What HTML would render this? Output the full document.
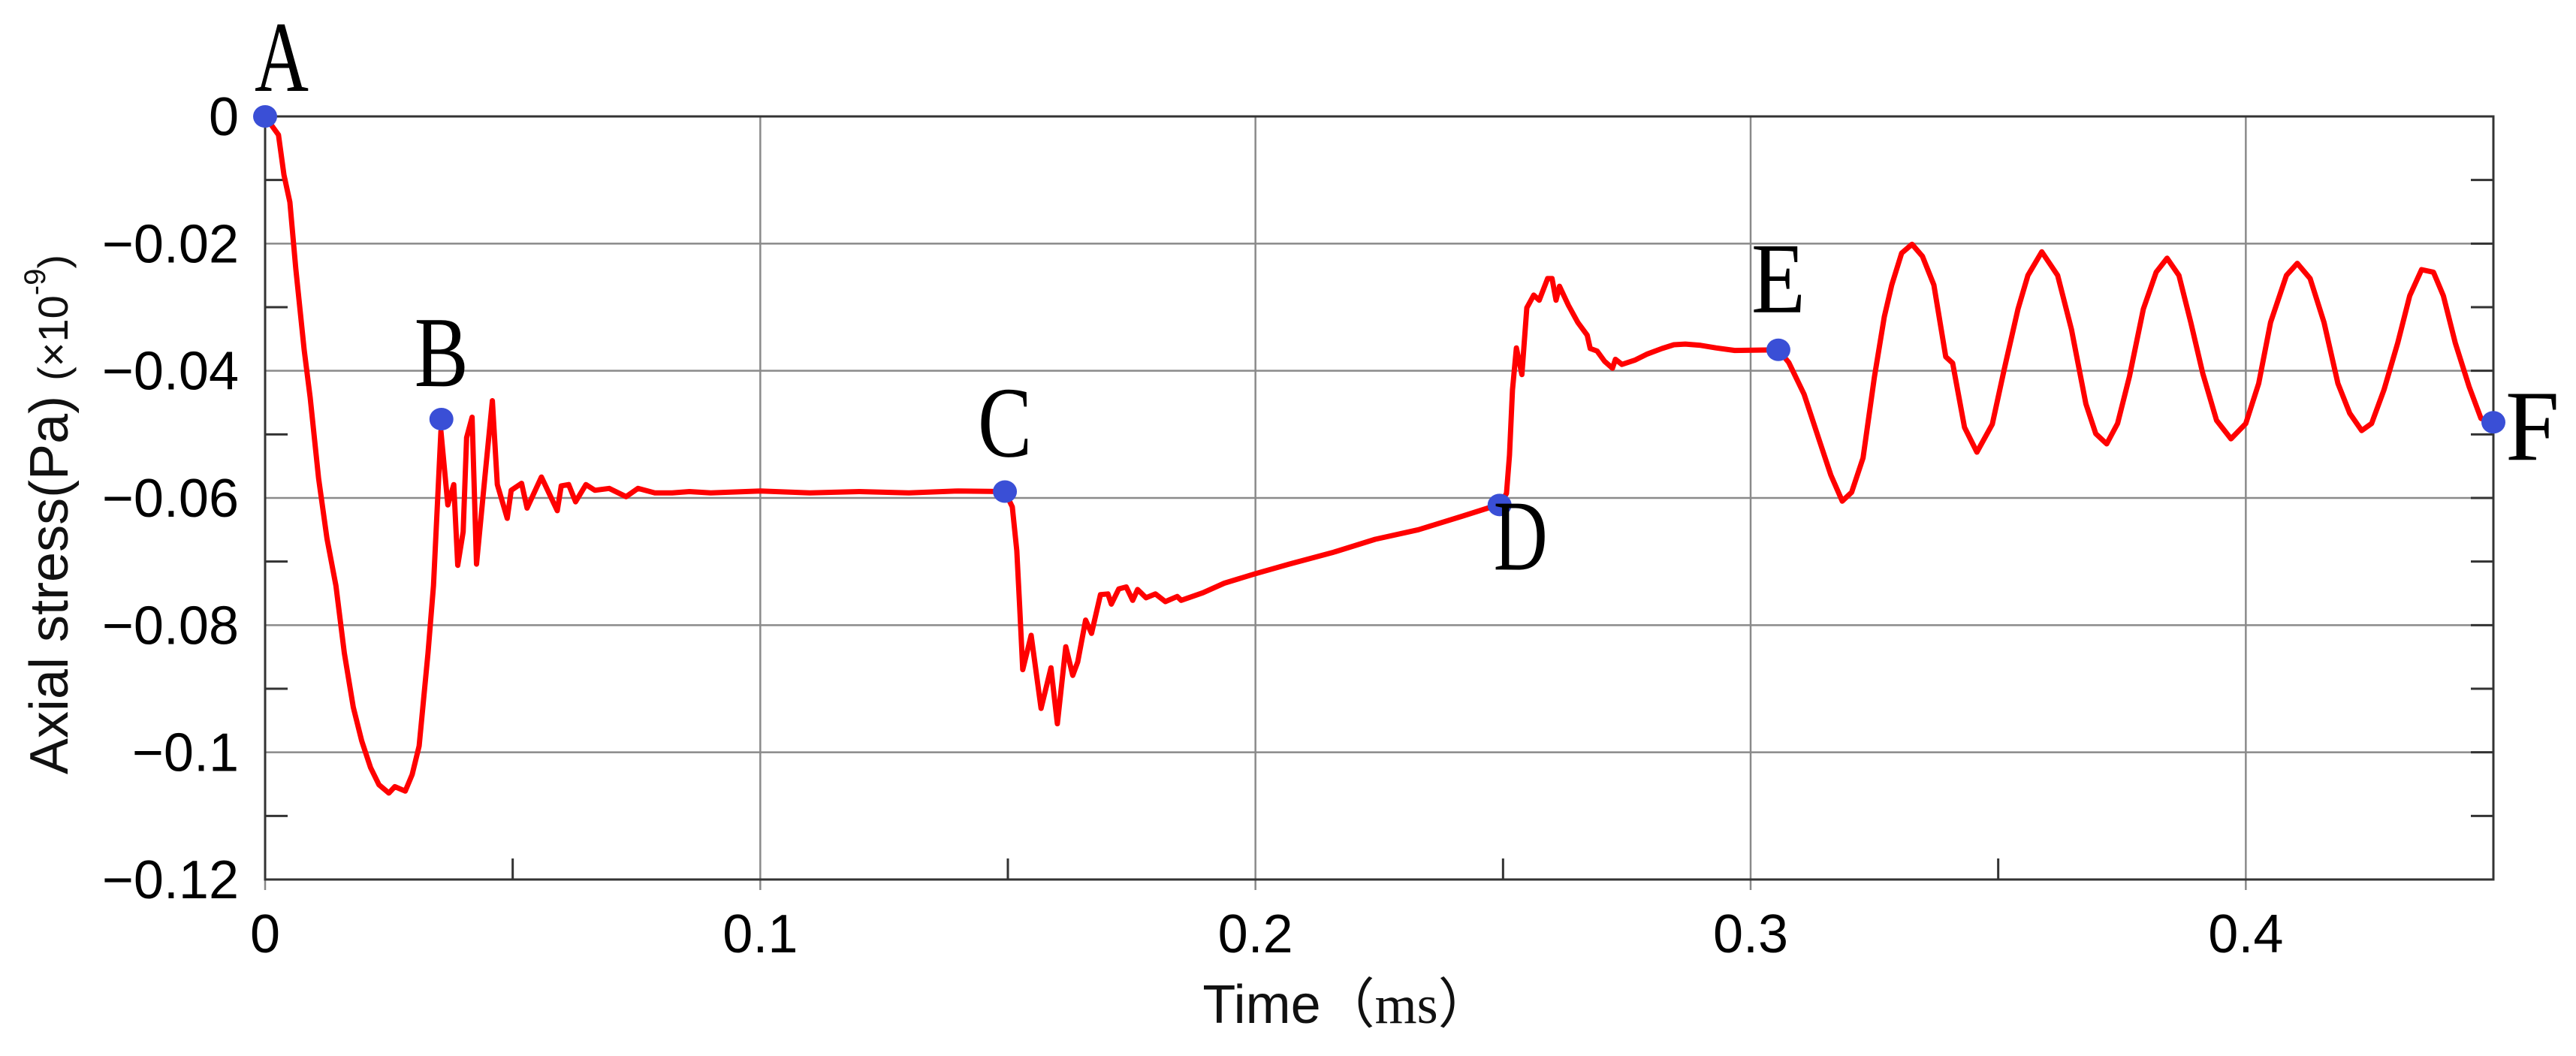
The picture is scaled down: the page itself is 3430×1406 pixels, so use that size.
<!DOCTYPE html>
<html><head><meta charset="utf-8"><style>
html,body{margin:0;padding:0;background:#fff;}
svg{display:block;}
</style></head><body>
<svg id="chart" width="3430" height="1406" viewBox="0 0 3430 1406" xmlns="http://www.w3.org/2000/svg">
<g id="grid"></g>
<g id="axes"></g>
<g id="series"></g>
<g id="marks"></g>
<text x="1794" y="1362" text-anchor="middle" font-family="Liberation Sans, Noto Sans CJK SC, sans-serif" font-size="72" fill="#111">Time（<tspan font-family="Liberation Serif, Noto Serif CJK SC, serif">ms</tspan>）</text>
<g transform="translate(90,1031) rotate(-90)">
<text x="0" y="0" font-family="Liberation Sans, sans-serif" font-size="72" fill="#111">Axial stress(Pa) <tspan font-size="56">(×10</tspan><tspan font-size="40" dy="-30">-9</tspan><tspan font-size="56" dy="30">)</tspan></text>
</g>
</svg>
<script>
const times=[0,.0027,.0038,.005,.0062,.0079,.0091,.0108,.0125,.0143,.016,.0178,.0195,.0213,.023,.025,.0262,.0283,.0297,.0311,.0329,.034,.0355,.0369,.0381,.0389,.04,.0407,.0418,.0427,.0445,.0459,.0469,.0489,.0497,.0518,.0529,.0558,.059,.0598,.0613,.0627,.0648,.0666,.0695,.0729,.0753,.0787,.0822,.0857,.09,.1,.11,.12,.13,.14,.1494,.1509,.1518,.1524,.153,.1547,.1567,.1587,.16,.1617,.1631,.1641,.1657,.1669,.1687,.1702,.1709,.1724,.1739,.1752,.1762,.1779,.1798,.1818,.1842,.185,.1894,.1937,.2,.2068,.2155,.2242,.2329,.2416,.2477,.2493,.2507,.2513,.2519,.2527,.2538,.2548,.2562,.2573,.259,.2599,.2607,.2614,.2632,.2651,.267,.2676,.269,.2705,.2721,.2727,.274,.2767,.279,.2821,.2845,.2868,.2899,.293,.2968,.3056,.3077,.3108,.3139,.3162,.3185,.3204,.3227,.325,.327,.3285,.3305,.3326,.3347,.337,.3394,.3408,.3432,.3457,.3488,.3512,.354,.356,.3588,.362,.3648,.3677,.3697,.3719,.3741,.3765,.3793,.3819,.3841,.3865,.3889,.3913,.3941,.397,.4,.4026,.405,.4082,.4104,.413,.4158,.4186,.421,.4234,.4254,.4279,.4307,.4331,.4355,.4379,.4399,.4423,.4451,.4475,.45];
const stress=[0,-.0029,-.0092,-.0135,-.024,-.0368,-.0442,-.0569,-.0664,-.0738,-.0844,-.0929,-.0982,-.1024,-.1051,-.1064,-.1054,-.1061,-.1035,-.099,-.0844,-.0738,-.0495,-.0611,-.0579,-.0706,-.0653,-.0505,-.0473,-.0704,-.0558,-.0447,-.0579,-.0632,-.0588,-.0577,-.0616,-.0567,-.062,-.0581,-.0579,-.0606,-.0579,-.0588,-.0585,-.0598,-.0585,-.0592,-.0592,-.059,-.0592,-.0589,-.0592,-.059,-.0592,-.0589,-.059,-.0614,-.0683,-.0773,-.087,-.0816,-.0931,-.0867,-.0955,-.0834,-.0879,-.0858,-.0792,-.0813,-.0752,-.0751,-.0767,-.0743,-.074,-.0761,-.0744,-.0757,-.0751,-.0763,-.0755,-.0761,-.0749,-.0734,-.0719,-.0704,-.0686,-.0665,-.065,-.0629,-.0614,-.0611,-.0593,-.0533,-.043,-.0364,-.0406,-.0301,-.0281,-.0289,-.0255,-.0255,-.0289,-.0267,-.0297,-.0324,-.0344,-.0365,-.0369,-.0385,-.0396,-.0382,-.039,-.0383,-.0374,-.0365,-.0359,-.0358,-.036,-.0364,-.0368,-.0367,-.0387,-.0437,-.051,-.0564,-.0605,-.0591,-.0537,-.041,-.0315,-.0265,-.0215,-.0201,-.022,-.0265,-.0378,-.0388,-.0489,-.0528,-.0484,-.0398,-.0303,-.025,-.0213,-.025,-.0335,-.0452,-.0499,-.0515,-.0483,-.0409,-.0303,-.0245,-.0223,-.025,-.0324,-.0404,-.0478,-.0507,-.0483,-.042,-.0324,-.025,-.0231,-.0255,-.0324,-.042,-.0467,-.0494,-.0483,-.043,-.0356,-.0282,-.0241,-.0245,-.0282,-.0356,-.0425,-.0475,-.0481];
const pointLabels=["A","B","C","D","E","F"];
const pointTimes=[0,.0356,.1494,.2493,.3056,.45];
const pointValues=[0,-.0476,-.059,-.0611,-.0367,-.0481];
const xTicks=[0,.1,.2,.3,.4];
const xTickLabels=["0","0.1","0.2","0.3","0.4"];
const yTicks=[0,-.02,-.04,-.06,-.08,-.1,-.12];
const yTickLabels=["0","\u22120.02","\u22120.04","\u22120.06","\u22120.08","\u22120.1","\u22120.12"];

const X0=353,X1=3320,Y0=155,Y1=1171,TMAX=.45,VMIN=-.12;
const sx=t=>X0+(X1-X0)*t/TMAX;
const sy=v=>Y0+(Y1-Y0)*v/VMIN;
const NS="http://www.w3.org/2000/svg";
function mk(tag,attrs,parent){const e=document.createElementNS(NS,tag);for(const k in attrs)e.setAttribute(k,attrs[k]);parent.appendChild(e);return e;}
const grid=document.getElementById('grid'),axes=document.getElementById('axes'),series=document.getElementById('series'),marks=document.getElementById('marks');

yTicks.forEach((v,i)=>{
  const l=mk('line',{x1:X0,x2:X1,y1:sy(v),y2:sy(v),stroke:'#8a8a8a','stroke-width':2.5},grid);
  
  
  const r=mk('line',{x1:X1-30,x2:X1,y1:sy(v),y2:sy(v),stroke:'#333','stroke-width':3},axes);
  
  
  const t=mk('text',{x:318,y:sy(v)+25,'text-anchor':'end','font-family':'Liberation Sans, sans-serif','font-size':72,fill:'#000'},axes);
  t.textContent=yTickLabels[i];
  
  
});
for(let v=-.01;v>-.12;v-=.02){
  const m=mk('line',{x1:X0,x2:X0+30,y1:sy(v),y2:sy(v),stroke:'#333','stroke-width':3},axes);
  
  
  const m2=mk('line',{x1:X1-30,x2:X1,y1:sy(v),y2:sy(v),stroke:'#333','stroke-width':3},axes);
  
  
}
xTicks.forEach((t,i)=>{
  const l=mk('line',{x1:sx(t),x2:sx(t),y1:Y0,y2:Y1+14,stroke:'#8a8a8a','stroke-width':2.5},grid);
  
  
  const tx=mk('text',{x:sx(t),y:1268,'text-anchor':'middle','font-family':'Liberation Sans, sans-serif','font-size':72,fill:'#000'},axes);
  tx.textContent=xTickLabels[i];
  
  
});
for(let t=.05;t<.45;t+=.1){
  const m=mk('line',{x1:sx(t),x2:sx(t),y1:Y1-28,y2:Y1,stroke:'#333','stroke-width':3},axes);
  
  
}
const frame=mk('rect',{x:X0,y:Y0,width:X1-X0,height:Y1-Y0,fill:'none',stroke:'#333','stroke-width':3},axes);



let d='';
times.forEach((t,i)=>{d+=(i?'L':'M')+sx(t).toFixed(1)+' '+sy(stress[i]).toFixed(1);});
const p=mk('path',{d:d,fill:'none',stroke:'#ff0000','stroke-width':7,'stroke-linejoin':'round','stroke-linecap':'round'},series);



const labelOff=[[22,-34],[0,-44],[0,-47],[28,86],[0,-50],[52,50]];
pointLabels.forEach((lab,i)=>{
  const cx=sx(pointTimes[i]),cy=sy(pointValues[i]);
  const c=mk('ellipse',{cx:cx,cy:cy,rx:16,ry:15,fill:'#3a4fd6'},marks);
  
  
  const tx=mk('text',{x:cx+labelOff[i][0],y:cy+labelOff[i][1],'text-anchor':'middle','font-family':'Liberation Serif, serif','font-size':134,fill:'#000',textLength:72,lengthAdjust:'spacingAndGlyphs'},marks);
  tx.textContent=lab;
  
  
});
</script>
</body></html>
